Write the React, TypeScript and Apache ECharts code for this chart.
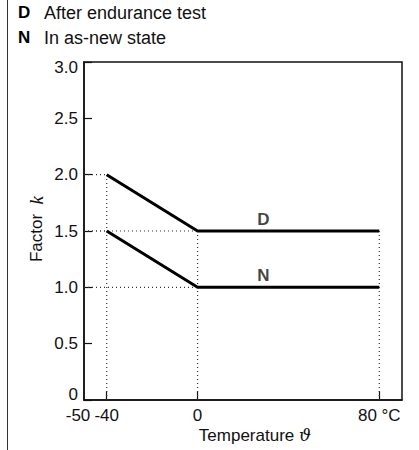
import React, { useEffect, useRef } from "react";
import * as echarts from "echarts";

const temps = [-40, 0, 80];
const factorD = [2.0, 1.5, 1.5];
const factorN = [1.5, 1.0, 1.0];
const xLabelValues = [-50, -40, 0, 80];
const xTickValues = [-40, 0, 80];
const curveLabels = [
  { name: "D", at: 29, values: factorD },
  { name: "N", at: 29, values: factorN },
];
const legendItems = [
  { key: "D", text: "After endurance test" },
  { key: "N", text: "In as-new state" },
];

const FONT = "'Liberation Sans', Arial, Helvetica, sans-serif";

export default function App() {
  const ref = useRef<HTMLDivElement>(null);
  useEffect(() => {
    if (!ref.current) return;
    const chart = echarts.init(ref.current, undefined, { renderer: "svg" });
    const xMin = -50;
    const dotted = { type: [1, 3] as any, width: 1.2, color: "#333" };
    const guideSeries: any[] = [];
    [factorD, factorN].forEach((vals) => {
      [0, 1].forEach((i) => {
        guideSeries.push({
          type: "line",
          data: [[xMin, vals[i]], [temps[i], vals[i]]],
          symbol: "none",
          silent: true,
          lineStyle: dotted,
          z: 1,
        });
      });
    });
    temps.forEach((t, i) => {
      const top = Math.max(factorD[i], factorN[i]);
      guideSeries.push({
        type: "line",
        data: [[t, 0], [t, top]],
        symbol: "none",
        silent: true,
        lineStyle: dotted,
        z: 1,
      });
    });
    const curveSeries = [factorD, factorN].map((vals) => ({
      type: "line",
      data: temps.map((t, i) => [t, vals[i]]),
      symbol: "none",
      lineStyle: { color: "#000", width: 3 },
      z: 3,
    }));
    const labelSeries = curveLabels.map((c) => ({
      type: "scatter",
      data: [[c.at, c.values[2]]],
      symbolSize: 0,
      silent: true,
      label: {
        show: true,
        position: "top",
        distance: 3,
        formatter: c.name,
        fontFamily: FONT,
        fontWeight: "bold",
        fontSize: 17,
        color: "#111",
      },
      z: 4,
    }));
    chart.setOption({
      animation: false,
      grid: {
        left: 84,
        right: 17,
        top: 62,
        bottom: 50,
        show: true,
        borderColor: "#111",
        borderWidth: 1.5,
        backgroundColor: "transparent",
      },
      xAxis: {
        type: "value",
        min: -50,
        max: 90,
        splitLine: { show: false },
        axisLine: { show: true, onZero: false, lineStyle: { color: "#111", width: 1.5 } },
        axisTick: {
          show: true,
          inside: true,
          length: 9,
          customValues: xTickValues,
          lineStyle: { color: "#111", width: 1.2 },
        },
        axisLabel: {
          customValues: xLabelValues,
          margin: 7,
          fontFamily: FONT,
          fontSize: 17,
          color: "#111",
          formatter: (v: number) => {
            if (v === -50) return "{l|-50}";
            if (v === 80) return "80 °C";
            return String(v);
          },
          rich: {
            l: { padding: [0, 12, 0, 0], fontFamily: FONT, fontSize: 17, color: "#111" },
          },
        },
      },
      yAxis: {
        type: "value",
        min: 0,
        max: 3,
        interval: 0.5,
        splitLine: { show: false },
        axisLine: { show: true, onZero: false, lineStyle: { color: "#111", width: 1.5 } },
        axisTick: { show: true, inside: true, length: 8, lineStyle: { color: "#111", width: 1.2 } },
        axisLabel: {
          margin: 6,
          fontFamily: FONT,
          fontSize: 17,
          color: "#111",
          formatter: (v: number) => {
            if (v === 0) return "{lo|0}";
            if (v === 3) return "{hi|3.0}";
            return v.toFixed(1);
          },
          rich: {
            lo: { padding: [0, 0, 12, 0], fontFamily: FONT, fontSize: 17, color: "#111" },
            hi: { padding: [11, 0, 0, 0], fontFamily: FONT, fontSize: 17, color: "#111" },
          },
        },
      },
      graphic: [
        {
          type: "line",
          shape: { x1: 7.5, y1: 0, x2: 7.5, y2: 450 },
          style: { stroke: "#333", lineWidth: 1 },
          silent: true,
        },
        ...legendItems.flatMap((item, i) => [
          {
            type: "text",
            x: 18,
            y: 12.5 + i * 25,
            style: {
              text: item.key,
              font: `bold 17px ${FONT}`,
              fill: "#000",
              textVerticalAlign: "middle",
            },
          },
          {
            type: "text",
            x: 44,
            y: 12.5 + i * 25,
            style: {
              text: item.text,
              font: `18px ${FONT}`,
              fill: "#111",
              textVerticalAlign: "middle",
            },
          },
        ]),
        {
          type: "text",
          x: 36,
          y: 229,
          rotation: Math.PI / 2,
          style: {
            text: "{a|Factor  }{b|k}",
            textAlign: "center",
            textVerticalAlign: "middle",
            rich: {
              a: { fontFamily: FONT, fontSize: 17, fill: "#111" },
              b: { fontFamily: "'Liberation Serif', 'DejaVu Serif', serif", fontStyle: "italic", fontSize: 19, fill: "#111" },
            },
          },
        },
        {
          type: "text",
          x: 255,
          y: 435,
          style: {
            text: "{a|Temperature }{b|ϑ}",
            textAlign: "center",
            textVerticalAlign: "middle",
            rich: {
              a: { fontFamily: FONT, fontSize: 17, fill: "#111" },
              b: { fontFamily: "'DejaVu Serif', 'Liberation Serif', serif", fontStyle: "italic", fontSize: 17, fill: "#111" },
            },
          },
        },
      ],
      series: [...guideSeries, ...curveSeries, ...labelSeries],
    });
    return () => chart.dispose();
  }, []);
  return (
    <div
      ref={ref}
      style={{ position: "fixed", left: 0, top: 0, width: 419, height: 450, background: "#fff" }}
    />
  );
}
